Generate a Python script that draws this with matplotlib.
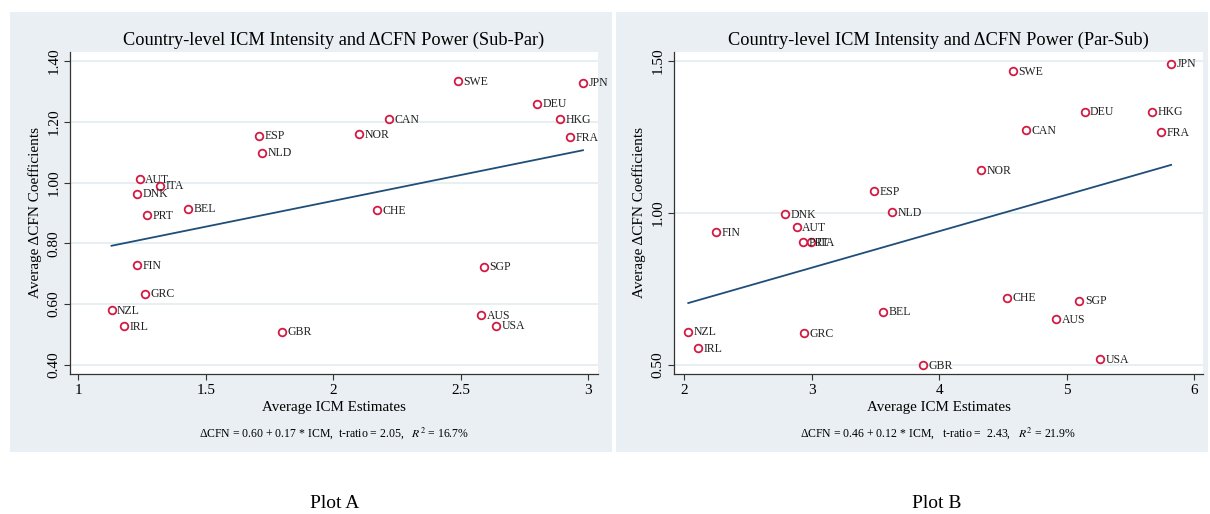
import numpy as np
import matplotlib
matplotlib.use("Agg")
import matplotlib.pyplot as plt
from matplotlib.patches import Rectangle

plt.rcParams['font.family'] = ['Liberation Serif', 'DejaVu Serif']
plt.rcParams['mathtext.fontset'] = 'stix'

# Plot A (Sub-Par)
a_countries = ["SWE", "JPN", "DEU", "CAN", "HKG", "ESP", "NOR", "FRA", "NLD",
               "AUT", "ITA", "DNK", "BEL", "CHE", "PRT", "FIN", "SGP", "GRC",
               "NZL", "AUS", "IRL", "USA", "GBR"]
a_icm = [2.49, 2.98, 2.80, 2.22, 2.89, 1.71, 2.10, 2.93, 1.72,
         1.24, 1.32, 1.23, 1.43, 2.17, 1.27, 1.23, 2.59, 1.26,
         1.13, 2.58, 1.18, 2.64, 1.80]
a_cfn = [1.335, 1.329, 1.260, 1.210, 1.209, 1.155, 1.159, 1.150, 1.099,
         1.012, 0.990, 0.964, 0.914, 0.909, 0.892, 0.728, 0.723, 0.634,
         0.581, 0.564, 0.528, 0.529, 0.509]
a_fit = (0.60, 0.17)
a_note = r"ΔCFN = 0.60 + 0.17 * ICM,  t-ratio = 2.05,   $R^2$ = 16.7%"

# Plot B (Par-Sub)
b_countries = ["JPN", "SWE", "DEU", "HKG", "CAN", "FRA", "NOR", "ESP", "DNK",
               "NLD", "FIN", "AUT", "PRT", "ITA", "CHE", "SGP", "BEL", "AUS",
               "NZL", "GRC", "IRL", "USA", "GBR"]
b_icm = [5.82, 4.58, 5.14, 5.67, 4.68, 5.74, 4.33, 3.49, 2.79,
         3.63, 2.25, 2.88, 2.93, 2.99, 4.53, 5.10, 3.56, 4.92,
         2.03, 2.94, 2.11, 5.26, 3.87]
b_cfn = [1.492, 1.468, 1.334, 1.334, 1.273, 1.267, 1.142, 1.073, 0.996,
         1.003, 0.938, 0.954, 0.905, 0.905, 0.721, 0.711, 0.675, 0.650,
         0.609, 0.604, 0.554, 0.519, 0.500]
b_fit = (0.46, 0.12)
b_note = r"ΔCFN = 0.46 + 0.12 * ICM,   t-ratio =  2.43,   $R^2$ = 21.9%"

W, H = 1210, 514
bg = '#E9EFF2'
grid_c = '#E4EEF1'
mk_c = '#D21A42'
line_c = '#1F4E79'

fig = plt.figure(figsize=(W / 100, H / 100), dpi=100, facecolor='white')


def px_axes(x0, y0, x1, y1):
    # pixel box (top-left origin) -> figure axes
    return fig.add_axes([x0 / W, 1 - y1 / H, (x1 - x0) / W, (y1 - y0) / H], zorder=2)


def panel(box, axbox, countries, xs, ys, fit, title, note,
          xlim, ylim, xticks, yticks, xtl, ytl):
    x0, y0, x1, y1 = box
    fig.patches.append(Rectangle((x0 / W, 1 - y1 / H), (x1 - x0) / W, (y1 - y0) / H,
                                 transform=fig.transFigure, facecolor=bg,
                                 edgecolor='none', zorder=-10))
    ax = px_axes(*axbox)
    ax.set_facecolor('white')
    ax.set_xlim(xlim)
    ax.set_ylim(ylim)
    for s in ['top', 'right']:
        ax.spines[s].set_visible(False)
    for s in ['left', 'bottom']:
        ax.spines[s].set_color('#333333')
        ax.spines[s].set_linewidth(0.9)
    ax.set_xticks(xticks)
    ax.set_xticklabels(xtl, fontsize=11)
    ax.set_yticks(yticks)
    ax.set_yticklabels(ytl, fontsize=11, rotation=90, va='center')
    ax.tick_params(length=4, width=0.8, color='#333333', pad=3)
    for yv in yticks:
        ax.axhline(yv, color=grid_c, lw=1.3, zorder=0)

    xx = np.array([min(xs), max(xs)])
    ax.plot(xx, fit[0] + fit[1] * xx, color=line_c, lw=1.3, zorder=2)
    ax.plot(xs, ys, 'o', ms=5.5, mfc='none', mec=mk_c, mew=1.3, zorder=3)
    for c, xv, yv in zip(countries, xs, ys):
        ax.annotate(c, (xv, yv), xytext=(4, -0.5), textcoords='offset points',
                    va='center', ha='left', fontsize=8.5, color='#222222', zorder=4)

    ax.set_title(title, fontsize=13.2, pad=5)
    ax.set_xlabel("Average ICM Estimates", fontsize=10.8, labelpad=3)
    ax.set_ylabel("Average ΔCFN Coefficients", fontsize=11, labelpad=4)
    cx = (axbox[0] + axbox[2]) / 2
    fig.text(cx / W, 1 - 433 / H, note, fontsize=8.5, ha='center', va='center')
    return ax


panel((10, 12, 612, 452), (70, 52, 598, 374), a_countries, a_icm, a_cfn, a_fit,
      "Country-level ICM Intensity and ΔCFN Power (Sub-Par)", a_note,
      (0.967, 3.039), (0.37, 1.43), [1, 1.5, 2, 2.5, 3],
      [0.4, 0.6, 0.8, 1.0, 1.2, 1.4], ["1", "1.5", "2", "2.5", "3"],
      ["0.40", "0.60", "0.80", "1.00", "1.20", "1.40"])

panel((616, 12, 1208, 452), (674, 52, 1203, 374), b_countries, b_icm, b_cfn, b_fit,
      "Country-level ICM Intensity and ΔCFN Power (Par-Sub)", b_note,
      (1.918, 6.07), (0.47, 1.53), [2, 3, 4, 5, 6],
      [0.5, 1.0, 1.5], ["2", "3", "4", "5", "6"],
      ["0.50", "1.00", "1.50"])

fig.text(335 / W, 1 - 503 / H, "Plot A", fontsize=14, ha='center', va='center')
fig.text(937 / W, 1 - 503 / H, "Plot B", fontsize=14, ha='center', va='center')

fig.savefig("out.png", dpi=100, facecolor='white')
